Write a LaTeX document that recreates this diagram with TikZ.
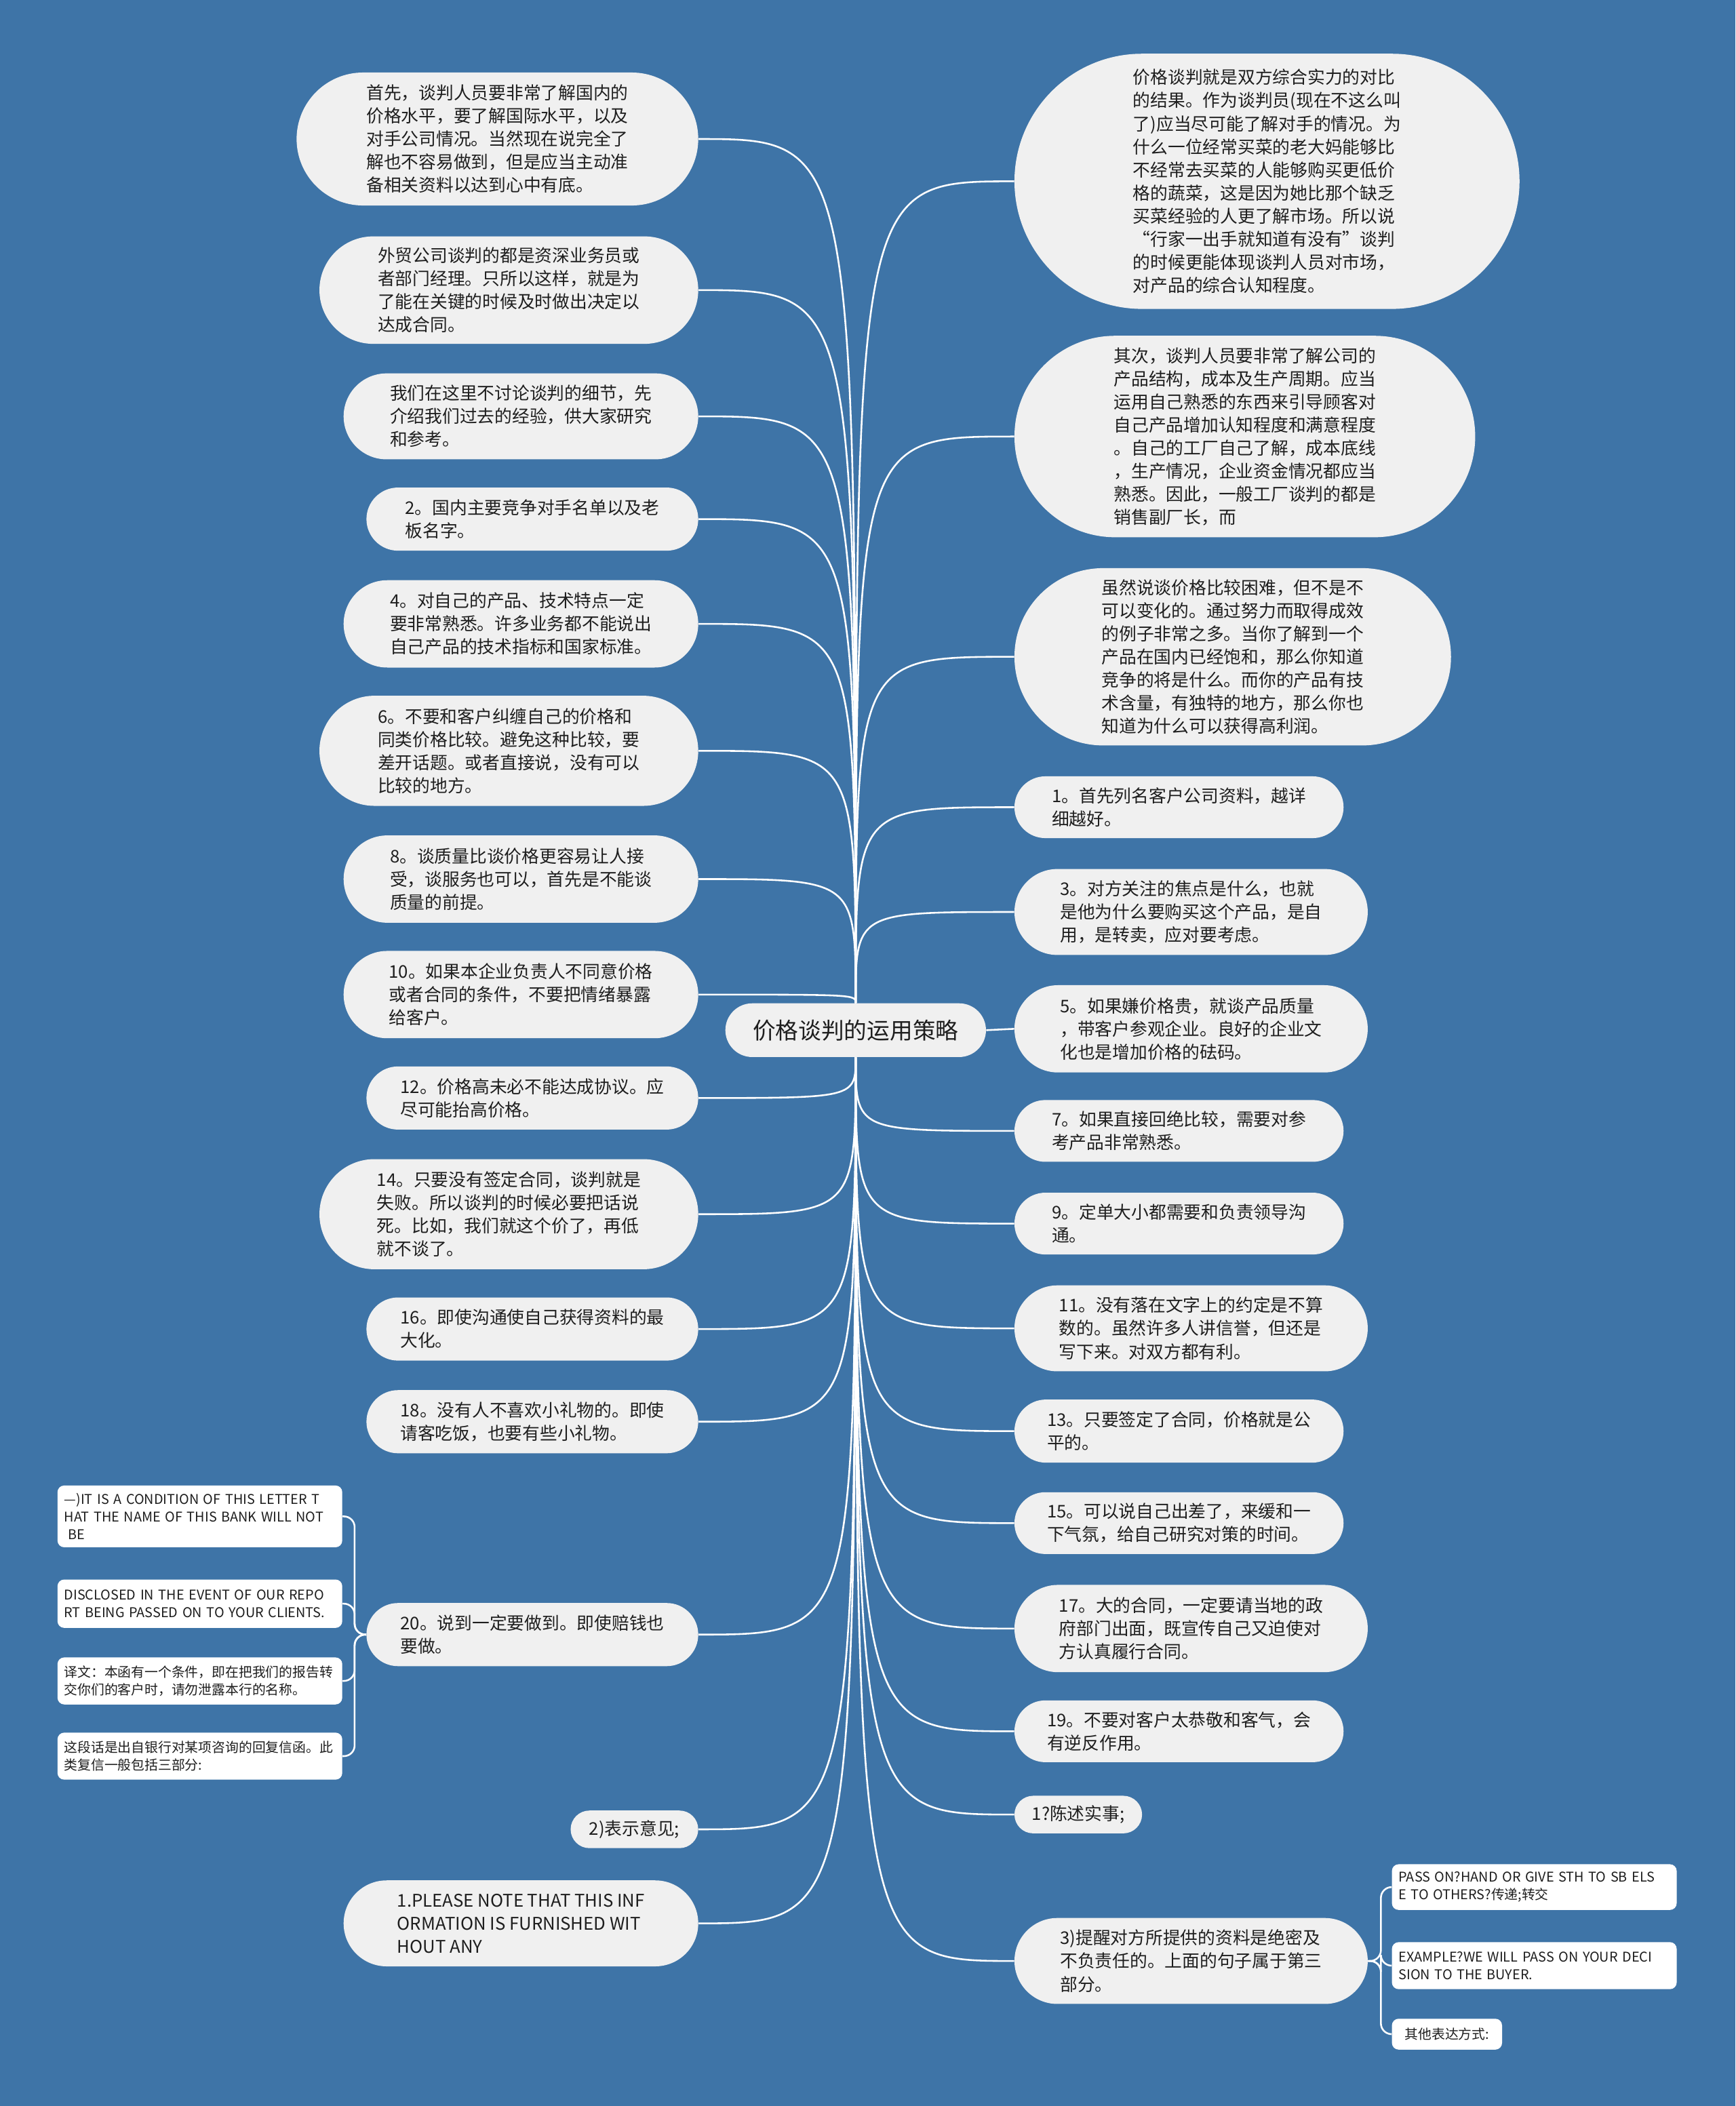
\documentclass[tikz,border=0pt]{standalone}
\usepackage{fontspec}
\setmainfont{Noto Sans CJK SC}
\usepackage{tikz}
\usetikzlibrary{backgrounds}
\usepackage{xcolor}

\definecolor{bgblue}{RGB}{62,116,167}
\definecolor{nodegray}{RGB}{240,240,240}
\definecolor{inkgray}{RGB}{30,30,30}
\newcommand{\topicfont}{\fontsize{13pt}{17.2pt}\selectfont}
\newcommand{\rootfont}{\fontsize{17pt}{20pt}\selectfont}
\newcommand{\notefont}{\fontsize{10pt}{13pt}\selectfont}

\begin{document}
\begin{tikzpicture}[x=1pt, y=-1pt,
        topic/.style={fill=nodegray, text=inkgray, align=left, inner sep=0pt, font=\topicfont},
        lbox/.style={topic, anchor=east},
        rbox/.style={topic, anchor=west},
        pill/.style 2 args={minimum width=#1, minimum height=#2, rounded corners=#2/2},
        note/.style={fill=white, text=inkgray, align=left, inner xsep=5pt, inner ysep=0pt, rounded corners=5pt, font=\notefont},
        wide/.style={text width=202pt, minimum height=#1},
        link/.style={draw=white, line width=1.3pt, to path={.. controls (\tikztostart |- \tikztotarget) .. (\tikztotarget)}},
        bracket/.style={draw=white, line width=1.3pt, rounded corners=8pt}
    ]
    \useasboundingbox (0,0) rectangle (1292,1568);

    \node[topic, font=\rootfont, pill={194pt}{40pt}] (root) at (637,767) {价格谈判的运用策略};

    % left side
    \node[lbox, pill={299pt}{99pt}] (L1) at (520,103.5) {首先，谈判人员要非常了解国内的\\价格水平，要了解国际水平，以及\\对手公司情况。当然现在说完全了\\解也不容易做到，但是应当主动准\\备相关资料以达到心中有底。};
    \node[lbox, pill={282pt}{80pt}] (L2) at (520,216) {外贸公司谈判的都是资深业务员或\\者部门经理。只所以这样，就是为\\了能在关键的时候及时做出决定以\\达成合同。};
    \node[lbox, pill={264pt}{64pt}] (L3) at (520,310) {我们在这里不讨论谈判的细节，先\\介绍我们过去的经验，供大家研究\\和参考。};
    \node[lbox, pill={247pt}{47pt}] (L4) at (520,386.5) {2。国内主要竞争对手名单以及老\\板名字。};
    \node[lbox, pill={264pt}{65pt}] (L5) at (520,464.5) {4。对自己的产品、技术特点一定\\要非常熟悉。许多业务都不能说出\\自己产品的技术指标和国家标准。};
    \node[lbox, pill={282pt}{82pt}] (L6) at (520,559) {6。不要和客户纠缠自己的价格和\\同类价格比较。避免这种比较，要\\差开话题。或者直接说，没有可以\\比较的地方。};
    \node[lbox, pill={264pt}{65pt}] (L7) at (520,654.5) {8。谈质量比谈价格更容易让人接\\受，谈服务也可以，首先是不能谈\\质量的前提。};
    \node[lbox, pill={264pt}{65pt}] (L8) at (520,740.5) {10。如果本企业负责人不同意价格\\或者合同的条件，不要把情绪暴露\\给客户。};
    \node[lbox, pill={247pt}{47pt}] (L9) at (520,817.5) {12。价格高未必不能达成协议。应\\尽可能抬高价格。};
    \node[lbox, pill={282pt}{82pt}] (L10) at (520,904) {14。只要没有签定合同，谈判就是\\失败。所以谈判的时候必要把话说\\死。比如，我们就这个价了，再低\\就不谈了。};
    \node[lbox, pill={247pt}{47pt}] (L11) at (520,989.5) {16。即使沟通使自己获得资料的最\\大化。};
    \node[lbox, pill={247pt}{47pt}] (L12) at (520,1058.5) {18。没有人不喜欢小礼物的。即使\\请客吃饭，也要有些小礼物。};
    \node[lbox, pill={247pt}{47pt}] (L13) at (520,1217) {20。说到一定要做到。即使赔钱也\\要做。};
    \node[lbox, pill={95pt}{28pt}] (L14) at (520,1362) {2)表示意见;};
    \node[lbox, pill={264pt}{64pt}] (L15) at (520,1432) {1.PLEASE NOTE THAT THIS INF\\ORMATION IS FURNISHED WIT\\HOUT ANY};

    % notes under 20
    \node[note, wide=46pt, anchor=east] (La) at (255,1129) {—)IT IS A CONDITION OF THIS LETTER T\\HAT THE NAME OF THIS BANK WILL NOT\\\hspace*{3pt}BE};
    \node[note, wide=36pt, anchor=east] (Lb) at (255,1194) {DISCLOSED IN THE EVENT OF OUR REPO\\RT BEING PASSED ON TO YOUR CLIENTS.};
    \node[note, wide=35pt, anchor=east] (Lc) at (255,1251.5) {译文：本函有一个条件，即在把我们的报告转\\交你们的客户时，请勿泄露本行的名称。};
    \node[note, wide=35pt, anchor=east] (Ld) at (255,1307.5) {这段话是出自银行对某项咨询的回复信函。此\\类复信一般包括三部分:};
    \coordinate (lj) at (264,1217);

    % right side
    \node[rbox, pill={376pt}{190pt}] (R1) at (755,135) {价格谈判就是双方综合实力的对比\\的结果。作为谈判员(现在不这么叫\\了)应当尽可能了解对手的情况。为\\什么一位经常买菜的老大妈能够比\\不经常去买菜的人能够购买更低价\\格的蔬菜，这是因为她比那个缺乏\\买菜经验的人更了解市场。所以说\\“行家一出手就知道有没有”谈判\\的时候更能体现谈判人员对市场，\\对产品的综合认知程度。};
    \node[rbox, pill={343pt}{150pt}] (R2) at (755,325) {其次，谈判人员要非常了解公司的\\产品结构，成本及生产周期。应当\\运用自己熟悉的东西来引导顾客对\\自己产品增加认知程度和满意程度\\。自己的工厂自己了解，成本底线\\，生产情况，企业资金情况都应当\\熟悉。因此，一般工厂谈判的都是\\销售副厂长，而};
    \node[rbox, pill={325pt}{132pt}] (R3) at (755,489) {虽然说谈价格比较困难，但不是不\\可以变化的。通过努力而取得成效\\的例子非常之多。当你了解到一个\\产品在国内已经饱和，那么你知道\\竞争的将是什么。而你的产品有技\\术含量，有独特的地方，那么你也\\知道为什么可以获得高利润。};
    \node[rbox, pill={245pt}{46pt}] (R4) at (755,601) {1。首先列名客户公司资料，越详\\细越好。};
    \node[rbox, pill={263pt}{64pt}] (R5) at (755,679) {3。对方关注的焦点是什么，也就\\是他为什么要购买这个产品，是自\\用，是转卖，应对要考虑。};
    \node[rbox, pill={263pt}{65pt}] (R6) at (755,766) {5。如果嫌价格贵，就谈产品质量\\，带客户参观企业。良好的企业文\\化也是增加价格的砝码。};
    \node[rbox, pill={245pt}{46pt}] (R7) at (755,842) {7。如果直接回绝比较，需要对参\\考产品非常熟悉。};
    \node[rbox, pill={245pt}{46pt}] (R8) at (755,911) {9。定单大小都需要和负责领导沟\\通。};
    \node[rbox, pill={263pt}{64pt}] (R9) at (755,989) {11。没有落在文字上的约定是不算\\数的。虽然许多人讲信誉，但还是\\写下来。对双方都有利。};
    \node[rbox, pill={245pt}{47pt}] (R10) at (755,1065.5) {13。只要签定了合同，价格就是公\\平的。};
    \node[rbox, pill={245pt}{46pt}] (R11) at (755,1134) {15。可以说自己出差了，来缓和一\\下气氛，给自己研究对策的时间。};
    \node[rbox, pill={263pt}{65pt}] (R12) at (755,1212.5) {17。大的合同，一定要请当地的政\\府部门出面，既宣传自己又迫使对\\方认真履行合同。};
    \node[rbox, pill={245pt}{46pt}] (R13) at (755,1289) {19。不要对客户太恭敬和客气，会\\有逆反作用。};
    \node[rbox, pill={95pt}{28pt}] (R14) at (755,1351) {1?陈述实事;};
    \node[rbox, pill={263pt}{64pt}] (R15) at (755,1460) {3)提醒对方所提供的资料是绝密及\\不负责任的。上面的句子属于第三\\部分。};

    % notes under 3)
    \node[note, wide=34pt, anchor=west] (Ra) at (1036,1405) {PASS ON?HAND OR GIVE STH TO SB ELS\\E TO OTHERS?传递;转交};
    \node[note, wide=35pt, anchor=west] (Rb) at (1036,1463.5) {EXAMPLE?WE WILL PASS ON YOUR DECI\\SION TO THE BUYER.};
    \node[note, anchor=west, minimum width=82pt, minimum height=23pt] (Rc) at (1036,1514.5) {其他表达方式:};
    \coordinate (rj) at (1028,1460);

    \begin{scope}[on background layer]
    \fill[bgblue] (0,0) rectangle (1292,1568);
    \draw[link] (root.north) to (L1.east);
    \draw[link] (root.north) to (L2.east);
    \draw[link] (root.north) to (L3.east);
    \draw[link] (root.north) to (L4.east);
    \draw[link] (root.north) to (L5.east);
    \draw[link] (root.north) to (L6.east);
    \draw[link] (root.north) to (L7.east);
    \draw[link] (root.north) to (L8.east);
    \draw[link] (root.south) to (L9.east);
    \draw[link] (root.south) to (L10.east);
    \draw[link] (root.south) to (L11.east);
    \draw[link] (root.south) to (L12.east);
    \draw[link] (root.south) to (L13.east);
    \draw[link] (root.south) to (L14.east);
    \draw[link] (root.south) to (L15.east);
    \draw[link] (root.north) to (R1.west);
    \draw[link] (root.north) to (R2.west);
    \draw[link] (root.north) to (R3.west);
    \draw[link] (root.north) to (R4.west);
    \draw[link] (root.north) to (R5.west);
    \draw[draw=white, line width=1.3pt] (root.east) -- (R6.west);
    \draw[link] (root.south) to (R7.west);
    \draw[link] (root.south) to (R8.west);
    \draw[link] (root.south) to (R9.west);
    \draw[link] (root.south) to (R10.west);
    \draw[link] (root.south) to (R11.west);
    \draw[link] (root.south) to (R12.west);
    \draw[link] (root.south) to (R13.west);
    \draw[link] (root.south) to (R14.west);
    \draw[link] (root.south) to (R15.west);
    \draw[bracket] (L13.west) -- (lj) |- (La.east);
    \draw[bracket] (L13.west) -- (lj) |- (Lb.east);
    \draw[bracket] (L13.west) -- (lj) |- (Lc.east);
    \draw[bracket] (L13.west) -- (lj) |- (Ld.east);
    \draw[bracket] (R15.east) -- (rj) |- (Ra.west);
    \draw[bracket] (R15.east) -- (rj) |- (Rb.west);
    \draw[bracket] (R15.east) -- (rj) |- (Rc.west);
    \end{scope}
\end{tikzpicture}
\end{document}
